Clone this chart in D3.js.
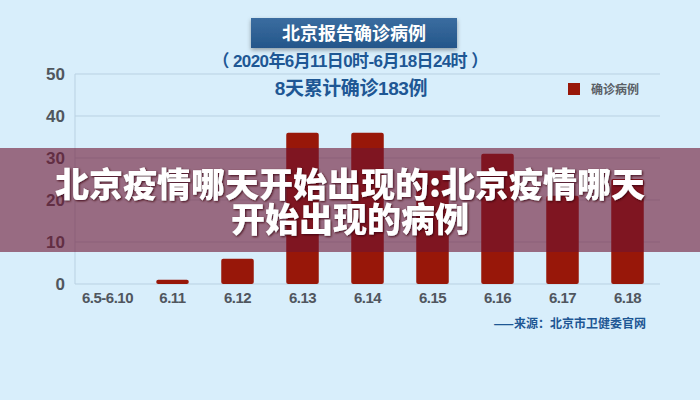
<!DOCTYPE html>
<html><head><meta charset="utf-8">
<script src="https://cdn.jsdelivr.net/npm/d3@7"></script>
<style>body{margin:0;background:#d8eefb;}svg{display:block;}</style>
</head><body>
<script>
const categories = ["6.5-6.10","6.11","6.12","6.13","6.14","6.15","6.16","6.17","6.18"];
const cases = [0,1,6,36,36,27,31,21,25];
const yTicks = [0,10,20,30,40,50];
const titleText = "北京报告确诊病例";
const subtitleText = "（ 2020年6月11日0时-6月18日24时 ）";
const totalText = "8天累计确诊183例";
const legendText = "确诊病例";
const sourceText = "——来源：北京市卫健委官网";
const overlayLines = ["北京疫情哪天开始出现的:北京疫情哪天","开始出现的病例"];

const W = 700, H = 400;
const svg = d3.select("body").append("svg").attr("width", W).attr("height", H);
const font = "'Liberation Sans', 'Noto Sans CJK SC', sans-serif";
const cjk = "'Noto Sans CJK SC', sans-serif";

svg.append("rect").attr("width", W).attr("height", H).attr("fill", "#d8eefb");

const defs = svg.append("defs");
const g1 = defs.append("linearGradient").attr("id","tb").attr("x1",0).attr("y1",0).attr("x2",0).attr("y2",1);
g1.append("stop").attr("offset","0%").attr("stop-color","#3b6da0");
g1.append("stop").attr("offset","100%").attr("stop-color","#24568a");
const f = defs.append("filter").attr("id","sh").attr("x","-10%").attr("y","-30%").attr("width","120%").attr("height","170%");
f.append("feDropShadow").attr("dx",0).attr("dy",2).attr("stdDeviation",2).attr("flood-color","#000").attr("flood-opacity",0.35);
const f2 = defs.append("filter").attr("id","tsh").attr("x","-5%").attr("y","-20%").attr("width","110%").attr("height","140%");
f2.append("feDropShadow").attr("dx",1).attr("dy",1).attr("stdDeviation",1.2).attr("flood-color","#3a0010").attr("flood-opacity",0.9);

const x = d3.scaleBand().domain(categories).range([75, 660]).paddingInner(0.5).paddingOuter(0.25);
const y = d3.scaleLinear().domain([0, 50]).range([284, 74]);

// grid
const grid = svg.append("g");
grid.selectAll("line").data(yTicks).join("line")
  .attr("x1", 75).attr("x2", 660)
  .attr("y1", d => y(d)).attr("y2", d => y(d))
  .attr("stroke", "#b9d1e2").attr("stroke-width", 1);
svg.append("line").attr("x1",75).attr("x2",75).attr("y1",y(50)).attr("y2",y(0)).attr("stroke","#b9d1e2");

// y axis labels
const yAxis = d3.axisLeft(y).tickValues(yTicks).tickSize(0).tickPadding(0);
const ya = svg.append("g").attr("transform","translate(65,0)").call(yAxis);
ya.select(".domain").remove();
ya.selectAll("text").attr("font-family", font).attr("font-size", 17).attr("font-weight","bold").attr("fill","#50565e");

// x axis labels
const xAxis = d3.axisBottom(x).tickSize(0).tickPadding(0);
const xa = svg.append("g").attr("transform","translate(0,292)").call(xAxis);
xa.select(".domain").remove();
xa.selectAll("text").attr("font-family", font).attr("font-size", 15).attr("font-weight","bold").attr("fill","#50565e").attr("letter-spacing","-0.5");

// bars
svg.append("g").selectAll("rect").data(cases).join("rect")
  .attr("x", (d,i) => x(categories[i]))
  .attr("y", d => y(d))
  .attr("width", x.bandwidth())
  .attr("height", d => y(0) - y(d))
  .attr("rx", 2)
  .attr("fill", "#981709");

// title box
svg.append("rect").attr("x",251).attr("y",18).attr("width",206).attr("height",30)
  .attr("fill","url(#tb)").attr("filter","url(#sh)");
svg.append("text").attr("x",354).attr("y",39.5).attr("text-anchor","middle")
  .attr("font-family",cjk).attr("font-size",18).attr("font-weight","bold").attr("fill","#fff").text(titleText);
svg.append("text").attr("x",350).attr("y",67).attr("text-anchor","middle")
  .attr("font-family",font).attr("font-size",17).attr("font-weight","bold").attr("fill","#1e5794").attr("letter-spacing","-0.6").text(subtitleText);
svg.append("text").attr("x",351).attr("y",95).attr("text-anchor","middle")
  .attr("font-family",font).attr("font-size",19).attr("font-weight","bold").attr("fill","#1e5794").attr("letter-spacing","-0.4").text(totalText);

// legend
svg.append("rect").attr("x",568).attr("y",83).attr("width",12).attr("height",12).attr("fill","#981709");
svg.append("text").attr("x",591).attr("y",94).attr("font-family",cjk).attr("font-size",12).attr("font-weight","bold").attr("fill","#5a5f66").text(legendText);

// source
svg.append("text").attr("x",646).attr("y",328).attr("text-anchor","end")
  .attr("font-family",cjk).attr("font-size",12).attr("font-weight","bold").attr("fill","#1e5794").text(sourceText);

// overlay band
svg.append("rect").attr("x",0).attr("y",148).attr("width",W).attr("height",104)
  .attr("fill","rgb(110,20,50)").attr("fill-opacity",0.6);
const ov = svg.append("g").attr("filter","url(#tsh)");
ov.selectAll("text").data(overlayLines).join("text")
  .attr("x", 350).attr("y", (d,i) => 197 + i*35)
  .attr("text-anchor","middle")
  .attr("font-family",cjk).attr("font-size",34).attr("font-weight","900").attr("fill","#fff")
  .text(d => d);
</script>
</body></html>
